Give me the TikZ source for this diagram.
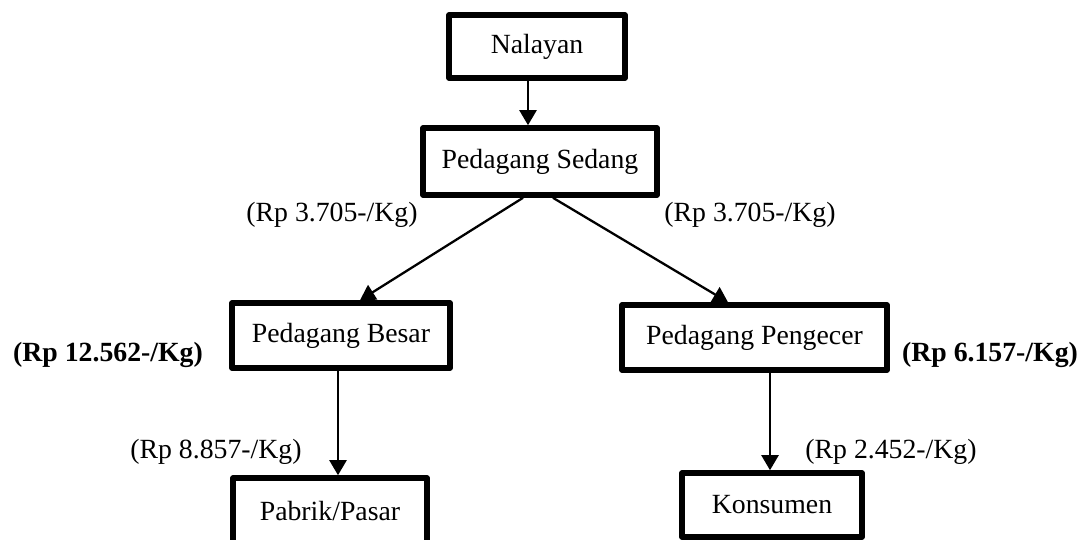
\documentclass[tikz,border=0pt]{standalone}
\usepackage{fontspec}
\setmainfont{Liberation Serif}
\usetikzlibrary{arrows.meta}

\begin{document}
\begin{tikzpicture}[x=0.02cm, y=-0.02cm,
    >={Triangle[width=0.34cm,length=0.3cm]},
    font=\fontsize{15.8}{19}\selectfont,
    box/.style={draw, line width=3.2pt, line join=round, inner sep=0pt},
    flow/.style={->, line width=1.3pt},
    harga/.style={inner sep=0pt},
    tebal/.style={inner sep=0pt, font=\fontsize{15.8}{19}\selectfont\bfseries}]
      \useasboundingbox (0,0) rectangle (1087,539);
      \node[box, minimum width=3.52cm, minimum height=1.26cm] (nal) at (537,46.5) {Nalayan};
      \node[box, minimum width=4.68cm, minimum height=1.34cm] (sed) at (540,161.5) {Pedagang Sedang};
      \node[box, minimum width=4.36cm, minimum height=1.3cm] (besar) at (341,335.5) {Pedagang Besar};
      \node[box, minimum width=5.3cm, minimum height=1.3cm] (ecer) at (754.5,337.5) {Pedagang Pengecer};
      \node[box, minimum width=3.88cm, minimum height=1.3cm] (pabrik) at (330,510.5) {Pabrik/Pasar};
      \node[box, minimum width=3.6cm, minimum height=1.28cm] (kons) at (772,505) {Konsumen};
      % prices
      \node[harga] (hbesar) at (332,215) {(Rp 3.705-/Kg)};
      \node[harga] (hecer) at (750,215) {(Rp 3.705-/Kg)};
      \node[tebal] (tbesar) at (108,355) {(Rp 12.562-/Kg)};
      \node[tebal] (tecer) at (990,355) {(Rp 6.157-/Kg)};
      \node[harga] (hpabrik) at (216,452) {(Rp 8.857-/Kg)};
      \node[harga] (hkons) at (891,452) {(Rp 2.452-/Kg)};
      % flows
      \draw[flow] ([xshift=-0.18cm]nal.south) -- ([xshift=-0.18cm]nal.south |- sed.north);
      \draw[flow] ([xshift=-0.34cm]sed.south) -- ([xshift=0.38cm]besar.north);
      \draw[flow] ([xshift=0.26cm]sed.south) -- ([xshift=-0.53cm]ecer.north);
      \draw[flow] ([xshift=-0.06cm]besar.south) -- ([xshift=-0.06cm]besar.south |- pabrik.north);
      \draw[flow] ([xshift=0.31cm]ecer.south) -- ([xshift=0.31cm]ecer.south |- kons.north);
    \end{tikzpicture}
\end{document}
